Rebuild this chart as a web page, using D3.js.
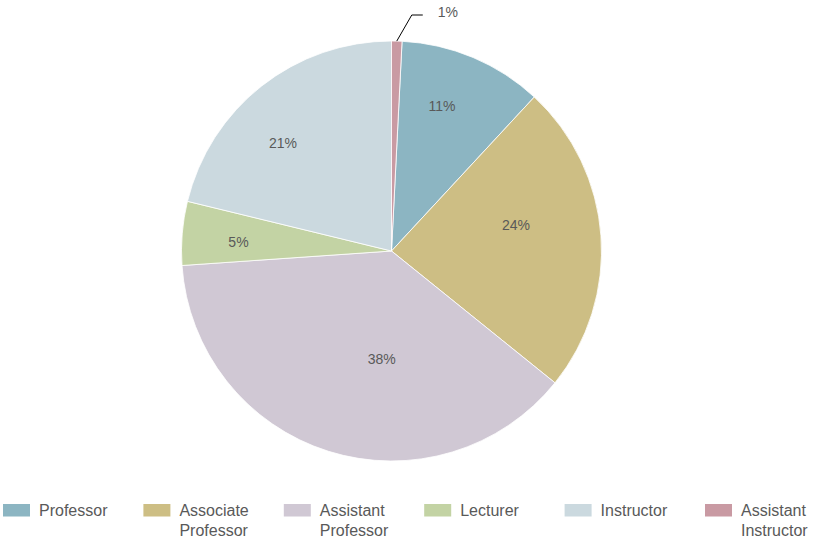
<!DOCTYPE html>
<html>
<head>
<meta charset="utf-8">
<script src="https://cdn.jsdelivr.net/npm/d3@7"></script>
<style>
  body { margin: 0; background: #fff; }
  svg { display: block; font-family: "Liberation Sans", Arial, sans-serif; }
</style>
</head>
<body>
<div id="chart"></div>
<script>
// categories and shares (percent)
const categories = ['Professor', 'Associate Professor', 'Assistant Professor', 'Lecturer', 'Instructor', 'Assistant Instructor'];
const shares = [11.1, 23.9, 38.1, 4.9, 21.2, 0.8];
const labels = ['11%', '24%', '38%', '5%', '21%', '1%'];
const colors = ['#8cb5c2', '#cdbe84', '#d0c8d4', '#c3d3a4', '#cbd9df', '#c99aa3'];

const width = 814, height = 538;
const cx = 391.5, cy = 251, radius = 210;

const svg = d3.select('#chart').append('svg')
  .attr('width', width)
  .attr('height', height);

const g = svg.append('g').attr('transform', 'translate(' + cx + ',' + cy + ')');

const total = d3.sum(shares);
// last slice sits just right of 12 o'clock, so the pie starts after it
const start = 2 * Math.PI * shares[shares.length - 1] / total;

const pie = d3.pie()
  .sort(null)
  .value(d => d.value)
  .startAngle(start)
  .endAngle(start + 2 * Math.PI);

const data = categories.map((c, i) => ({name: c, value: shares[i], label: labels[i], color: colors[i]}));
const arcs = pie(data);

const arc = d3.arc().innerRadius(0).outerRadius(radius);

g.selectAll('path.slice')
  .data(arcs)
  .enter()
  .append('path')
    .attr('class', 'slice')
    .attr('d', arc)
    .attr('fill', d => d.data.color)
    .attr('stroke', '#fff')
    .attr('stroke-width', 0.8);

// labels inside slices: big slices at area centroid, small ones further out
function labelPos(d) {
  const th = d.endAngle - d.startAngle;
  let r = radius * 0.73;
  if (th > 1.4) r = 2 * radius * Math.sin(th / 2) / (1.5 * th);
  const a = (d.startAngle + d.endAngle) / 2 - 0.09 * th;
  return [r * Math.sin(a), -r * Math.cos(a)];
}

const inside = arcs.filter(d => d.data.value >= 2);
g.selectAll('text.lbl')
  .data(inside)
  .enter()
  .append('text')
    .attr('class', 'lbl')
    .attr('x', d => labelPos(d)[0])
    .attr('y', d => labelPos(d)[1])
    .attr('dy', '0.35em')
    .attr('text-anchor', 'middle')
    .style('font-size', '14px')
    .style('fill', '#595959')
    .text(d => d.data.label);

// small slice: label outside with leader line
const small = arcs.filter(d => d.data.value < 2);
small.forEach(d => {
  const a = (d.startAngle + d.endAngle) / 2;
  const p0 = [radius * Math.sin(a), -radius * Math.cos(a)];
  const elbow = [p0[0] + 15, -236];
  const end = [elbow[0] + 11, -236];
  g.append('path')
    .attr('d', d3.line()([p0, elbow, end]))
    .attr('fill', 'none')
    .attr('stroke', '#000')
    .attr('stroke-width', 1);
  g.append('text')
    .attr('x', end[0] + 15)
    .attr('y', -239)
    .attr('dy', '0.35em')
    .style('font-size', '14px')
    .style('fill', '#595959')
    .text(d.data.label);
});

// legend
const legendX = d3.scaleBand()
  .domain(categories)
  .range([3, 3 + 140.4 * categories.length]);

const legend = svg.append('g').attr('transform', 'translate(0,504)');

const item = legend.selectAll('g.item')
  .data(data)
  .enter()
  .append('g')
    .attr('class', 'item')
    .attr('transform', d => 'translate(' + legendX(d.name) + ',0)');

item.append('rect')
  .attr('width', 27)
  .attr('height', 12.5)
  .attr('fill', d => d.color);

item.append('text')
  .attr('x', 36)
  .attr('y', 12)
  .style('font-size', '16px')
  .style('fill', '#595959')
  .each(function (d) {
    const words = d.name.split(' ');
    const t = d3.select(this);
    words.forEach((w, i) => {
      t.append('tspan')
        .attr('x', 36)
        .attr('dy', i == 0 ? 0 : 20)
        .text(w);
    });
  });
</script>
</body>
</html>
